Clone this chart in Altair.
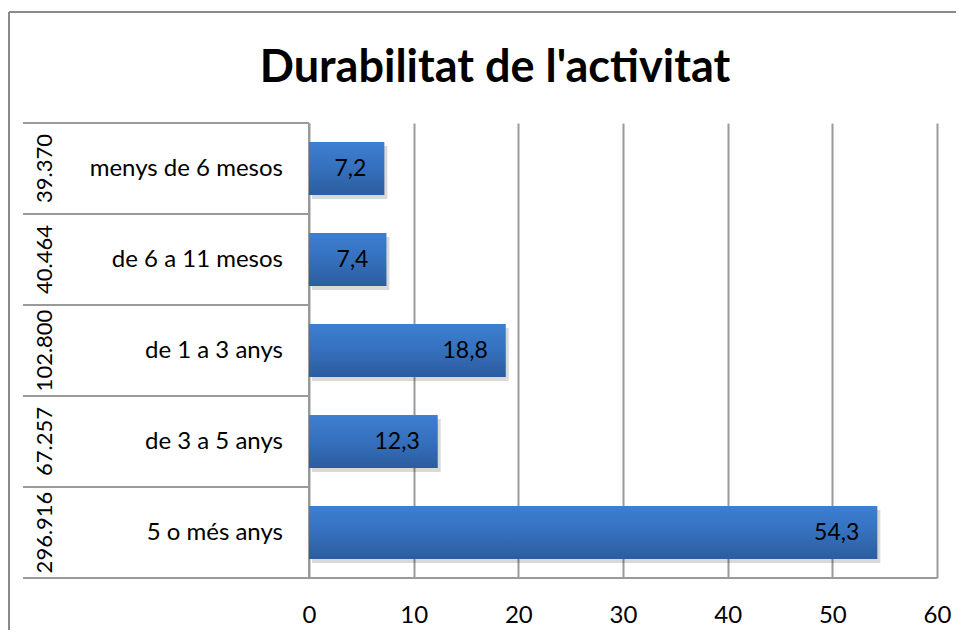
import altair as alt
import pandas as pd

categories = ["menys de 6 mesos", "de 6 a 11 mesos", "de 1 a 3 anys", "de 3 a 5 anys", "5 o més anys"]
values = [7.2, 7.4, 18.8, 12.3, 54.3]
counts = [39370, 40464, 102800, 67257, 296916]
ticks = [0, 10, 20, 30, 40, 50, 60]
title_text = "Durabilitat de l'activitat"

df = pd.DataFrame({"cat": categories, "value": values, "count": counts})

W, H = 628, 455
FONT = "Lato"
GRID = "#9a9a9a"

ysc = alt.Scale(domain=categories, paddingInner=0, paddingOuter=0)
xsc = alt.Scale(domain=[0, 60], nice=False)

base = alt.Chart(df).transform_calculate(
    vlabel="replace(format(datum.value, '.1f'), '.', ',')",
    clabel="replace(format(datum.count, ','), ',', '.')",
)

grad = alt.LinearGradient(
    gradient="linear", x1=0, y1=0, x2=0, y2=1,
    stops=[alt.GradientStop(color="#3d7fd2", offset=0),
           alt.GradientStop(color="#3570bd", offset=0.5),
           alt.GradientStop(color="#2c5c9e", offset=1)],
)

axis_layer = base.mark_rule(opacity=0).encode(
    x=alt.X("value:Q", scale=xsc, title=None,
            axis=alt.Axis(values=ticks, grid=True, gridColor=GRID, gridWidth=2,
                          ticks=False, domain=False, labelFont=FONT, labelFontSize=24,
                          labelColor="#000", labelPadding=25, labelFlush=False)),
    y=alt.Y("cat:N", scale=ysc, axis=None, sort=categories),
)

shadow = base.mark_bar(color="#000", opacity=0.15, xOffset=3, yOffset=4,
                       height={"band": 0.58}).encode(
    x=alt.X("value:Q", scale=xsc), y=alt.Y("cat:N", scale=ysc, sort=categories))

bars = base.mark_bar(color=grad, height={"band": 0.58}).encode(
    x=alt.X("value:Q", scale=xsc), y=alt.Y("cat:N", scale=ysc, sort=categories))

vlabels = base.mark_text(align="right", baseline="middle", dx=-18, font=FONT,
                         fontSize=23, color="#000").encode(
    x=alt.X("value:Q", scale=xsc), y=alt.Y("cat:N", scale=ysc, sort=categories),
    text="vlabel:N")

inner = base.mark_text(align="right", baseline="middle", font=FONT, fontSize=24,
                       color="#000").encode(
    x=alt.value(-26), y=alt.Y("cat:N", scale=ysc, sort=categories), text="cat:N")

outer = base.mark_text(align="center", baseline="middle", angle=270, font=FONT,
                       fontSize=22, color="#000").encode(
    x=alt.value(-264), y=alt.Y("cat:N", scale=ysc, sort=categories), text="clabel:N")

hlines = base.mark_rule(color=GRID, strokeWidth=2).encode(
    x=alt.value(-286), x2=alt.value(0),
    y=alt.Y("cat:N", scale=ysc, sort=categories, bandPosition=0))

frame = alt.Chart(pd.DataFrame({"t": [title_text]}))
bottom_line = frame.mark_rule(color=GRID, strokeWidth=2).encode(
    x=alt.value(-286), x2=alt.value(W), y=alt.value(H))
left_line = frame.mark_rule(color=GRID, strokeWidth=2).encode(
    x=alt.value(0), y=alt.value(0), y2=alt.value(H))
outer_left = frame.mark_rule(color="#8a8a8a", strokeWidth=2).encode(
    x=alt.value(-300), y=alt.value(-111), y2=alt.value(520))
outer_top = frame.mark_rule(color="#8a8a8a", strokeWidth=2).encode(
    x=alt.value(-300), x2=alt.value(700), y=alt.value(-111))
title = frame.mark_text(align="center", baseline="middle", font=FONT, fontSize=45,
                        fontWeight="bold", color="#000").encode(
    x=alt.value(186), y=alt.value(-55), text="t:N")

chart = alt.layer(
    axis_layer, hlines, bottom_line, left_line, outer_left, outer_top,
    shadow, bars, vlabels, inner, outer, title,
).properties(
    width=W, height=H,
    autosize=alt.AutoSizeParams(type="none"),
    padding={"left": 301, "top": 115, "right": 19, "bottom": 52},
).configure_view(stroke=None)

chart.save("out.html", embed_options={"renderer": "svg", "actions": False})
